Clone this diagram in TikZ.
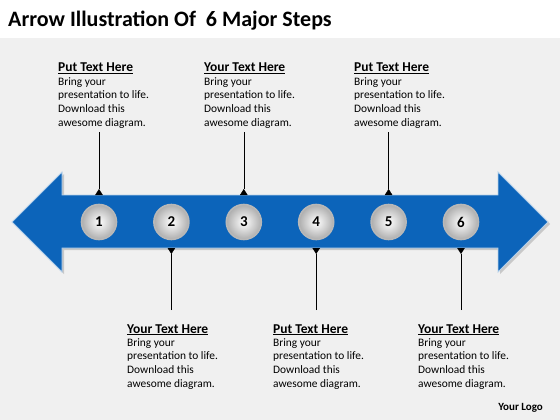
\documentclass[tikz,border=0pt]{standalone}
\usepackage{fontspec}
\setmainfont{Carlito}
\usetikzlibrary{shadows,arrows.meta,positioning}
\definecolor{arrowblue}{RGB}{12,100,186}
\definecolor{bggrey}{RGB}{240,240,240}

\begin{document}
\begin{tikzpicture}[x=1pt,y=-1pt]
	% Stiler
	\tikzstyle{stepball}	= [circle, minimum size=35pt, inner sep=0pt, draw=black!28, line width=1.6pt, inner color=white, outer color=black!32, font=\bfseries\fontsize{15}{15}\selectfont]
	\tikzstyle{headtext}	= [anchor=base west, inner sep=0pt, font=\bfseries\fontsize{13.5}{15}\selectfont]
	\tikzstyle{bodytext}	= [anchor=north west, align=left, inner sep=0pt, text depth=0pt, font=\fontsize{11.4}{13.6}\selectfont]
	\tikzstyle{pointer}		= [thin, -{Triangle[reversed, width=7.5pt, length=6pt]}]

	% Bakgrunn
	\fill[bggrey] (0,0) rectangle (560,420);
	\fill[white] (0,0) rectangle (560,38);
	\useasboundingbox (0,0) rectangle (560,420);

	% Tittel
	\node (title) [anchor=base west, inner sep=0pt, font=\bfseries\fontsize{22}{22}\selectfont] at (8,27) {Arrow Illustration Of \ 6 Major Steps};

	% Dobbeltpil
	\fill[arrowblue, draw=white!70!arrowblue, line width=0.9pt, drop shadow={shadow xshift=2pt, shadow yshift=-2pt, opacity=0.35}]
		(12,222) -- (62,172) -- (62,195) -- (498,195) -- (498,172) -- (548,222)
		-- (498,272) -- (498,248) -- (62,248) -- (62,272) -- cycle;
	\coordinate (shafttop) at (0,195);
	\coordinate (shaftbot) at (0,248);

	% Kuler
	\foreach \i in {1,...,6}
		\node[stepball] (ball\i) at ({99+72.4*(\i-1)},222) {\i};

	% Tekst over pilen
	\foreach \i/\tx/\head in {1/58/Put Text Here, 3/204/Your Text Here, 5/354/Put Text Here} {
		\node[headtext] (head\i) at (\tx,72) {\underline{\head}};
		\node[bodytext] (body\i) [below=3pt of head\i.south west, anchor=north west] {Bring your\\presentation to life.\\Download this\\awesome diagram.};
		\draw[pointer] ([yshift=-6pt]body\i.south -| ball\i) -- (ball\i |- shafttop);
	}

	% Tekst under pilen
	\foreach \i/\tx/\head in {2/127/Your Text Here, 4/273/Put Text Here, 6/418/Your Text Here} {
		\node[headtext] (head\i) at (\tx,333) {\underline{\head}};
		\node[bodytext] (body\i) [below=3pt of head\i.south west, anchor=north west] {Bring your\\presentation to life.\\Download this\\awesome diagram.};
		\draw[pointer] ([yshift=14pt]head\i.north -| ball\i) -- (ball\i |- shaftbot);
	}

	% Logo
	\node (logo) [anchor=base east, inner sep=0pt, font=\bfseries\fontsize{11}{11}\selectfont] at (543,410) {Your Logo};
\end{tikzpicture}
\end{document}
